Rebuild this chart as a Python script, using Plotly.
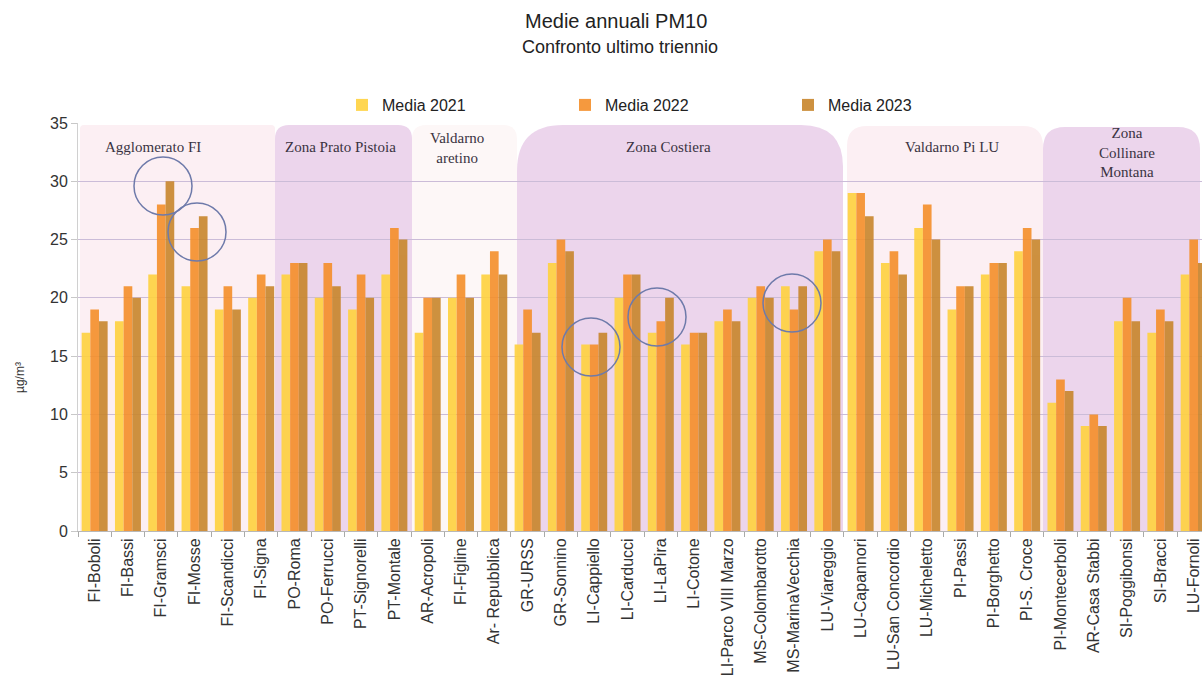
import plotly.graph_objects as go

stations = ["FI-Boboli", "FI-Bassi", "FI-Gramsci", "FI-Mosse", "FI-Scandicci", "FI-Signa",
            "PO-Roma", "PO-Ferrucci", "PT-Signorelli", "PT-Montale",
            "AR-Acropoli", "FI-Figline", "Ar- Repubblica",
            "GR-URSS", "GR-Sonnino", "LI-Cappiello", "LI-Carducci", "LI-LaPira", "LI-Cotone",
            "LI-Parco VIII Marzo", "MS-Colombarotto", "MS-MarinaVecchia", "LU-Viareggio",
            "LU-Capannori", "LU-San Concordio", "LU-Micheletto", "PI-Passi", "PI-Borghetto", "PI-S. Croce",
            "PI-Montecerboli", "AR-Casa Stabbi", "SI-Poggibonsi", "SI-Bracci", "LU-Fornoli"]

media_2021 = [17, 18, 22, 21, 19, 20, 22, 20, 19, 22, 17, 20, 22, 16, 23, 16, 20, 17, 16,
              18, 20, 21, 24, 29, 23, 26, 19, 22, 24, 11, 9, 18, 17, 22]
media_2022 = [19, 21, 28, 26, 21, 22, 23, 23, 22, 26, 20, 22, 24, 19, 25, 16, 22, 18, 17,
              19, 21, 19, 25, 29, 24, 28, 21, 23, 26, 13, 10, 20, 19, 25]
media_2023 = [18, 20, 30, 27, 19, 21, 23, 21, 20, 25, 20, 20, 22, 17, 24, 17, 22, 20, 17,
              18, 20, 21, 24, 27, 22, 25, 21, 23, 25, 12, 9, 18, 18, 23]

series_names = ["Media 2021", "Media 2022", "Media 2023"]
series_colors = ["#FFD23F", "#F58F2A", "#C8862C"]

# zones: (label, first index, last index)
zones = [("Agglomerato FI", 0, 5), ("Zona Prato Pistoia", 6, 9), ("Valdarno<br>aretino", 10, 12),
         ("Zona Costiera", 13, 22), ("Valdarno Pi LU", 23, 28), ("Zona<br>Collinare<br>Montana", 29, 33)]

# plot geometry
L, T, B = 78, 123, 149
W_PLOT, H_PLOT = 1202 - L, 680 - T - B
XR = [-0.5, 33.25]
YR = [0, 35]
pxu = W_PLOT / (XR[1] - XR[0])
pyu = H_PLOT / (YR[1] - YR[0])


def px2x(px):
    return (px - L) / pxu + XR[0]


def py2y(py):
    return (680 - B - py) / pyu


x = list(range(len(stations)))
fig = go.Figure()
for name, vals, col in zip(series_names, [media_2021, media_2022, media_2023], series_colors):
    fig.add_trace(go.Bar(x=x, y=vals, name=name, marker=dict(color=col, line=dict(width=0)),
                         opacity=0.9))

shapes = []


def rrect(x0p, x1p, topp, rl, rr, color):
    x0, x1 = px2x(x0p), px2x(x1p)
    y1 = py2y(topp)
    rlx, rly = rl / pxu, rl / pyu
    rrx, rry = rr / pxu, rr / pyu
    path = (f"M {x0},0 L {x0},{y1 - rly} Q {x0},{y1} {x0 + rlx},{y1} "
            f"L {x1 - rrx},{y1} Q {x1},{y1} {x1},{y1 - rry} L {x1},0 Z")
    return dict(type="path", path=path, xref="x", yref="y", fillcolor=color,
                line=dict(width=0), layer="below")


pink = "#FCEFF3"
purple = "#ECD5EC"
pale = "#FDF7F7"
shapes.append(rrect(80, 275, 125, 4, 4, pink))
shapes.append(rrect(275, 412, 125, 14, 14, purple))
shapes.append(rrect(412, 517, 125, 14, 14, pale))
shapes.append(rrect(517, 843, 125, 46, 42, purple))
shapes.append(rrect(847, 1043, 126, 20, 20, pink))
shapes.append(rrect(1043, 1200, 127, 22, 22, purple))

# highlight circles (pixel centre, radius)
circles = [(163, 186, 29), (197, 232, 29), (591, 347, 29), (657, 317, 29), (792, 303, 29)]
for cx, cy, r in circles:
    shapes.append(dict(type="circle", xref="x", yref="y",
                       x0=px2x(cx - r), x1=px2x(cx + r), y0=py2y(cy + r), y1=py2y(cy - r),
                       line=dict(color="#6E7AAA", width=1.5), fillcolor="rgba(0,0,0,0)",
                       layer="above"))

annotations = []
zone_pos = [(153, 147), (340, 147), (457, 148), (668, 147), (952, 147), (1127, 152)]
for (lab, a, b), (zx, zy) in zip(zones, zone_pos):
    annotations.append(dict(text=lab, x=(zx - L) / W_PLOT, y=(680 - B - zy) / H_PLOT,
                            xref="paper", yref="paper", showarrow=False,
                            font=dict(family="Liberation Serif", size=15, color="#3A3342"),
                            xanchor="center", yanchor="middle", align="center"))

annotations.append(dict(text="Medie annuali PM10", x=(616 - L) / W_PLOT, y=(680 - B - 21) / H_PLOT,
                        xref="paper", yref="paper", showarrow=False,
                        font=dict(family="Liberation Sans", size=20, color="#222222"),
                        xanchor="center", yanchor="middle"))
annotations.append(dict(text="Confronto ultimo triennio", x=(620 - L) / W_PLOT, y=(680 - B - 47) / H_PLOT,
                        xref="paper", yref="paper", showarrow=False,
                        font=dict(family="Liberation Sans", size=18, color="#222222"),
                        xanchor="center", yanchor="middle"))
annotations.append(dict(text="µg/m³", x=(20 - L) / W_PLOT, y=(680 - B - 378) / H_PLOT,
                        xref="paper", yref="paper", showarrow=False, textangle=-90,
                        font=dict(family="Liberation Sans", size=12, color="#333333"),
                        xanchor="center", yanchor="middle"))

fig.update_layout(
    width=1202, height=680,
    margin=dict(l=L, r=0, t=T, b=B),
    paper_bgcolor="white", plot_bgcolor="white",
    barmode="group", bargap=0.22, bargroupgap=0,
    shapes=shapes, annotations=annotations,
    font=dict(family="Liberation Sans", color="#333333"),
    legend=dict(orientation="h", x=(342 - L) / W_PLOT, y=(680 - B - 105) / H_PLOT,
                xanchor="left", yanchor="middle", entrywidth=178, entrywidthmode="pixels",
                font=dict(size=16, color="#222222"), bgcolor="rgba(0,0,0,0)"),
    showlegend=True,
)
fig.update_xaxes(range=XR, tickvals=x, ticktext=stations, tickangle=-90,
                 tickfont=dict(size=16, color="#333333"), ticks="", showgrid=False,
                 showline=True, linecolor="#B8B8B8", linewidth=1, zeroline=False,
                 minor=dict(tickvals=[i + 0.5 for i in range(-1, len(stations))], ticks="outside",
                            ticklen=5, tickcolor="#AAAAAA", showgrid=False))
fig.update_yaxes(range=YR, dtick=5, tick0=0, showgrid=True, gridcolor="#CBBCD8", gridwidth=1,
                 ticks="outside", ticklen=6, tickcolor="#C8C8C8",
                 tickfont=dict(size=16, color="#333333"), showline=True, linecolor="#D0D0D0",
                 zeroline=False, mirror=False)

fig.write_html("out.html")
